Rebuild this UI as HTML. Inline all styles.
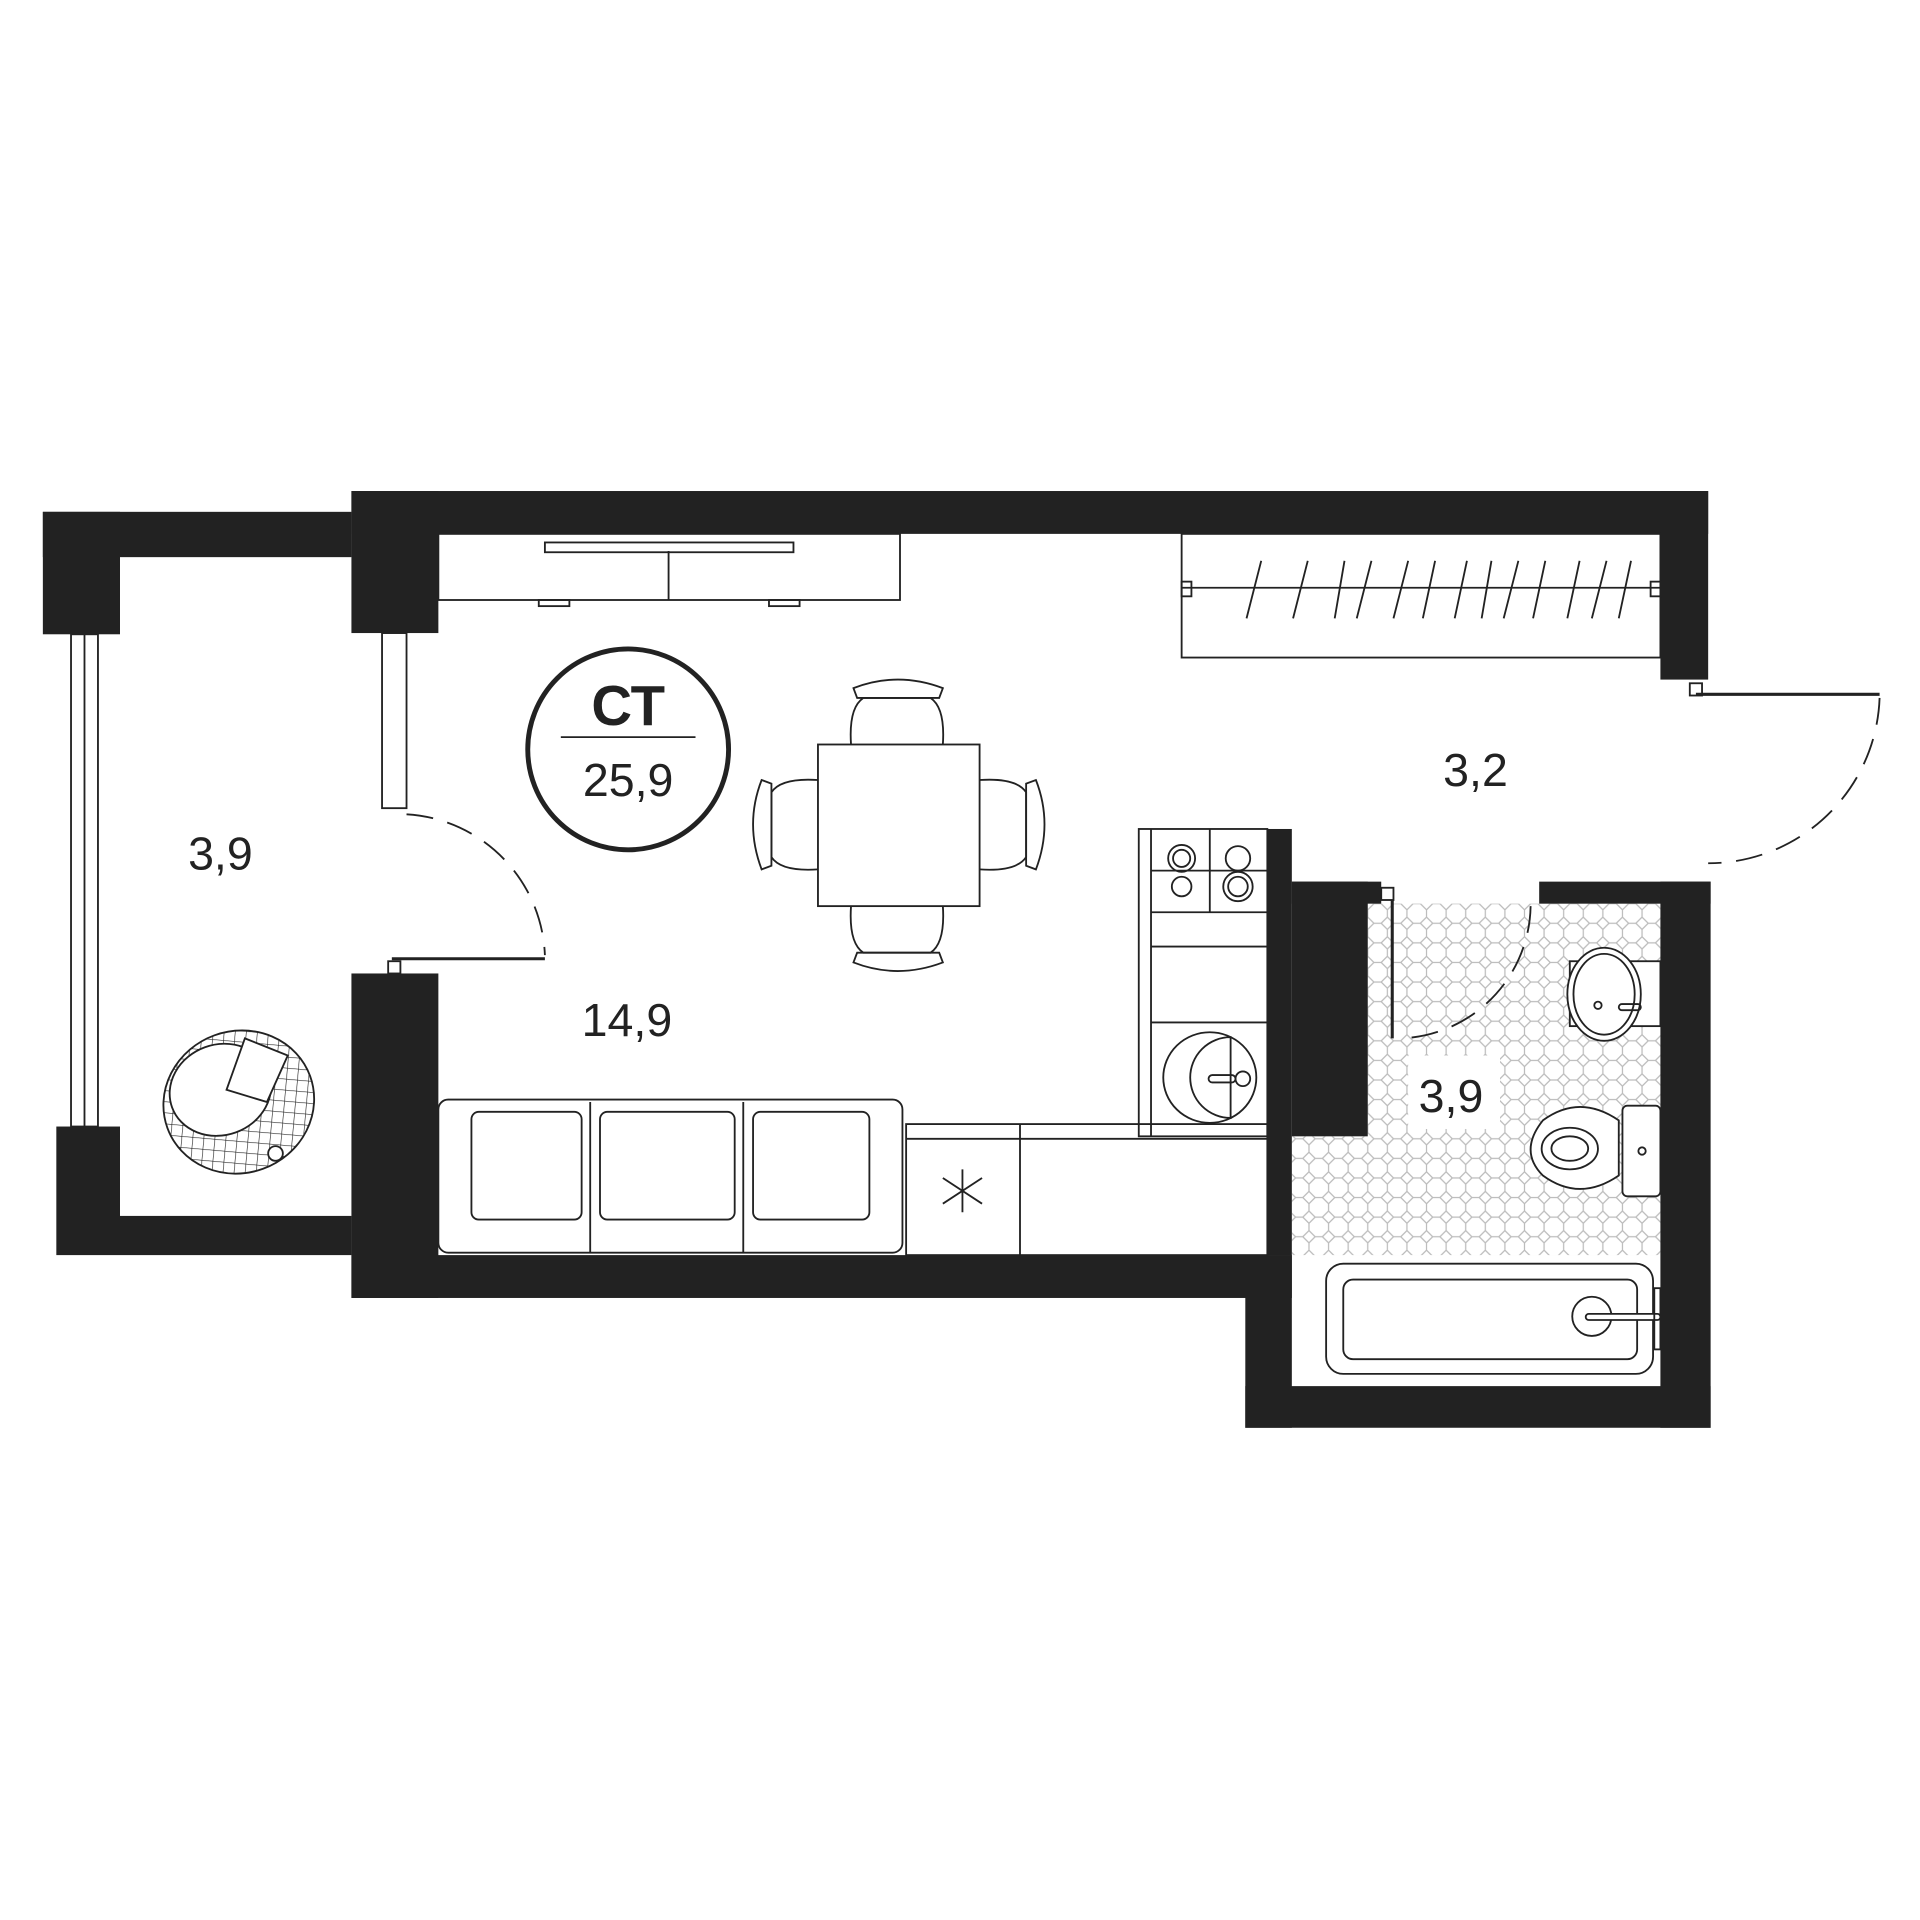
<!DOCTYPE html>
<html><head><meta charset="utf-8"><style>html,body{margin:0;padding:0;background:#fff}svg{display:block}</style></head>
<body>
<svg width="1920" height="1920" viewBox="0 0 1568 1568" xmlns="http://www.w3.org/2000/svg">
<defs>
<pattern id="tile" width="16" height="16" patternUnits="userSpaceOnUse" x="1117" y="738">
<path d="M5,0 L11,0 L16,5 L16,11 L11,16 L5,16 L0,11 L0,5 Z" fill="none" stroke="#bbb" stroke-width="1"/>
</pattern>
<pattern id="grid" width="9" height="9" patternUnits="userSpaceOnUse" patternTransform="rotate(25)">
<path d="M0,0 L9,0 M0,0 L0,9" fill="none" stroke="#222" stroke-width="1"/>
</pattern>
</defs>
<rect width="1568" height="1568" fill="#fff"/>
<rect x="1117" y="738" width="239" height="190" fill="url(#tile)"/>
<rect x="1055" y="928" width="301" height="97" fill="url(#tile)"/>
<rect x="1150" y="862" width="75" height="60" fill="#fff"/>
<g fill="#222">
<rect x="287" y="401" width="1108" height="35"/>
<rect x="1356" y="401" width="39" height="154"/>
<rect x="287" y="401" width="71" height="116"/>
<rect x="35" y="418" width="252" height="37"/>
<rect x="35" y="418" width="63" height="100"/>
<rect x="46" y="920" width="52" height="105"/>
<rect x="98" y="993" width="189" height="32"/>
<rect x="287" y="795" width="71" height="265"/>
<rect x="287" y="1025" width="768" height="35"/>
<rect x="1017" y="1025" width="38" height="141"/>
<rect x="1017" y="1132" width="380" height="34"/>
<rect x="1356" y="720" width="41" height="446"/>
<rect x="1257" y="720" width="140" height="18"/>
<rect x="1035" y="677" width="20" height="348"/>
<rect x="1055" y="720" width="73" height="18"/>
<rect x="1055" y="720" width="62" height="208"/>
</g>
<g fill="none" stroke="#222" stroke-width="1.5">
<rect x="58" y="518" width="22" height="402" fill="#fff"/>
<line x1="69" y1="518" x2="69" y2="920"/>
<rect x="312" y="517" width="20" height="143" fill="#fff"/>
<line x1="320" y1="783" x2="445" y2="783" stroke-width="2.5"/>
<rect x="317" y="785" width="10" height="10"/>
<path d="M332,665 A120,120 0 0 1 445,780" stroke-dasharray="22,12"/>
<line x1="1385" y1="567" x2="1535" y2="567" stroke-width="2.5"/>
<rect x="1380" y="558" width="10" height="10"/>
<path d="M1535,570 A140,140 0 0 1 1395,705" stroke-dasharray="22,12"/>
<line x1="1137" y1="735" x2="1137" y2="848" stroke-width="2.5"/>
<rect x="1128" y="725" width="10" height="10"/>
<path d="M1250,740 A110,110 0 0 1 1145,848" stroke-dasharray="22,12"/>
<rect x="358" y="436" width="377" height="54"/>
<line x1="546" y1="450" x2="546" y2="490"/>
<rect x="445" y="443" width="203" height="8"/>
<rect x="440" y="490" width="25" height="5"/><rect x="628" y="490" width="25" height="5"/>
<rect x="965" y="436" width="391" height="101"/>
<line x1="965" y1="480" x2="1356" y2="480"/>
<rect x="965" y="475" width="8" height="12"/><rect x="1348" y="475" width="8" height="12"/>
<path d="M1030,458 L1018,505 M1068,458 L1056,505 M1098,458 L1090,505 M1120,458 L1108,505 M1150,458 L1138,505 M1172,458 L1162,505 M1198,458 L1188,505 M1218,458 L1210,505 M1240,458 L1228,505 M1262,458 L1252,505 M1290,458 L1280,505 M1312,458 L1300,505 M1332,458 L1322,505"/>
<rect x="668" y="608" width="132" height="132" fill="#fff"/>
<path d="M695,608 Q693,578 705,570 L760,570 Q772,578 770,608"/>
<path d="M697,562 Q733,548 770,562 L767,570 L700,570 Z"/>
<path d="M695,740 Q693,770 705,778 L760,778 Q772,770 770,740"/>
<path d="M697,786 Q733,800 770,786 L767,778 L700,778 Z"/>
<path d="M668,637 Q638,635 630,647 L630,700 Q638,712 668,710"/>
<path d="M622,637 Q608,673 622,710 L630,707 L630,640 Z"/>
<path d="M800,637 Q830,635 838,647 L838,700 Q830,712 800,710"/>
<path d="M846,637 Q860,673 846,710 L838,707 L838,640 Z"/>
<rect x="930" y="677" width="105" height="251"/>
<line x1="940" y1="677" x2="940" y2="928"/>
<line x1="940" y1="745" x2="1035" y2="745"/>
<line x1="988" y1="677" x2="988" y2="745"/>
<line x1="940" y1="711" x2="1035" y2="711"/>
<line x1="940" y1="773" x2="1035" y2="773"/>
<line x1="940" y1="835" x2="1035" y2="835"/>
<circle cx="965" cy="701" r="11"/><circle cx="965" cy="701" r="7"/>
<circle cx="1011" cy="701" r="10"/>
<circle cx="965" cy="724" r="8"/>
<circle cx="1011" cy="724" r="12"/><circle cx="1011" cy="724" r="8"/>
<ellipse cx="988" cy="880" rx="38" ry="37"/>
<path d="M1005,847 A32,32 0 1 0 1005,913 Z"/>
<rect x="987" y="878" width="22" height="6" rx="3"/><circle cx="1015" cy="881" r="6"/>
<rect x="740" y="918" width="295" height="107"/>
<line x1="740" y1="930" x2="1035" y2="930"/>
<line x1="833" y1="918" x2="833" y2="1025"/>
<path d="M786,955 L786,990 M770,962 L802,983 M770,983 L802,962"/>
<rect x="358" y="898" width="379" height="125" rx="8"/>
<rect x="385" y="908" width="90" height="88" rx="6"/>
<rect x="490" y="908" width="110" height="88" rx="6"/>
<rect x="615" y="908" width="95" height="88" rx="6"/>
<line x1="482" y1="900" x2="482" y2="1023"/><line x1="607" y1="900" x2="607" y2="1023"/>
<ellipse cx="195" cy="900" rx="62" ry="58" transform="rotate(-20 195 900)" fill="url(#grid)"/>
<ellipse cx="180" cy="890" rx="42" ry="37" transform="rotate(-20 180 890)" fill="#fff"/>
<path d="M185,890 L200,848 L235,862 L218,900 Z" fill="#fff"/>
<circle cx="225" cy="942" r="6" fill="#fff"/>
<rect x="1282" y="785" width="74" height="53" fill="#fff"/>
<ellipse cx="1310" cy="812" rx="30" ry="38" fill="#fff"/>
<ellipse cx="1310" cy="812" rx="25" ry="33"/>
<circle cx="1305" cy="821" r="3"/><rect x="1322" y="820" width="18" height="5" rx="2.5"/>
<rect x="1325" y="903" width="31" height="74" rx="4" fill="#fff"/>
<circle cx="1341" cy="940" r="3"/>
<path d="M1322,915 Q1290,893 1260,915 Q1240,940 1260,960 Q1290,982 1322,960 Z" fill="#fff"/>
<ellipse cx="1282" cy="938" rx="23" ry="17"/>
<ellipse cx="1282" cy="938" rx="15" ry="10"/>
<rect x="1083" y="1032" width="267" height="90" rx="14" fill="#fff"/>
<rect x="1097" y="1045" width="240" height="65" rx="8"/>
<circle cx="1300" cy="1075" r="16"/>
<rect x="1295" y="1073" width="61" height="5" rx="2.5" fill="#fff"/>
<rect x="1351" y="1052" width="5" height="50"/>
</g>
<circle cx="513" cy="612" r="82" fill="none" stroke="#222" stroke-width="4"/>
<line x1="458" y1="602" x2="568" y2="602" stroke="#222" stroke-width="1.5"/>
<g font-family="Liberation Sans, sans-serif" fill="#222" text-anchor="middle">
<text x="513" y="592" font-size="46" font-weight="bold">СТ</text>
<text x="513" y="650" font-size="38">25,9</text>
<text x="180" y="710" font-size="38">3,9</text>
<text x="512" y="846" font-size="38">14,9</text>
<text x="1205" y="642" font-size="38">3,2</text>
<text x="1185" y="908" font-size="38">3,9</text>
</g>
</svg>
</body></html>
